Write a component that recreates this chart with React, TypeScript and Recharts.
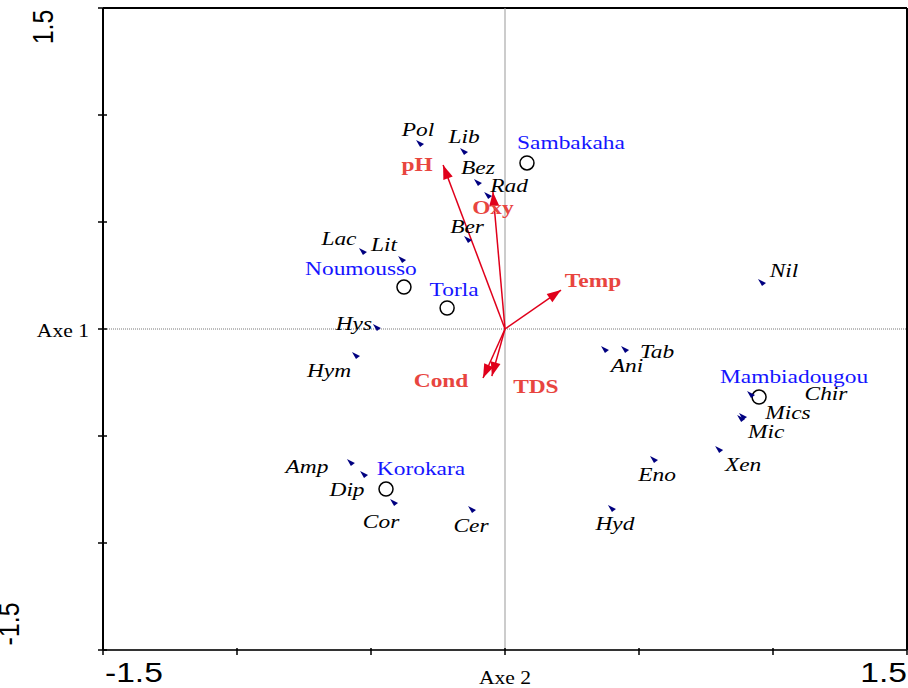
import React from 'react'
import { ScatterChart, Scatter, XAxis, YAxis, ReferenceLine } from 'recharts'

// species scores (axis 2 = x, axis 1 = y)
const speciesNames = ['Pol', 'Lib', 'Bez', 'Rad', 'Ber', 'Lac', 'Lit', 'Hys', 'Hym', 'Tab', 'Ani', 'Nil', 'Chir', 'Mics', 'Mic', 'Xen', 'Eno', 'Hyd', 'Cer', 'Cor', 'Amp', 'Dip']
const speciesX = [-0.317, -0.153, -0.101, -0.063, -0.138, -0.53, -0.384, -0.478, -0.556, 0.448, 0.373, 0.959, 0.918, 0.888, 0.881, 0.799, 0.556, 0.399, -0.123, -0.414, -0.575, -0.526]
const speciesY = [0.864, 0.827, 0.682, 0.621, 0.416, 0.36, 0.322, 0.005, -0.126, -0.098, -0.098, 0.215, -0.308, -0.411, -0.421, -0.565, -0.612, -0.841, -0.846, -0.813, -0.626, -0.682]

// stations
const siteNames = ['Sambakaha', 'Noumousso', 'Torla', 'Mambiadougou', 'Korokara']
const siteX = [0.082, -0.377, -0.216, 0.948, -0.444]
const siteY = [0.776, 0.196, 0.098, -0.318, -0.748]

// environmental variables
const envNames = ['pH', 'Oxy', 'Temp', 'Cond', 'TDS']
const envX = [-0.231, -0.045, 0.209, -0.082, -0.049]
const envY = [0.766, 0.64, 0.182, -0.229, -0.22]

const axisTicks = [-1.5, -1, -0.5, 0, 0.5, 1, 1.5]

// label offsets in px from the point
const LABEL_OFFSET: Record<string, [number, number]> = {
  Pol: [-2, -14], Lib: [0, -15], Bez: [0, -15], Rad: [21, -10], Ber: [-1, -13],
  Lac: [-24, -13], Lit: [-18, -15], Hys: [-23, -4], Hym: [-27, 15], Tab: [32, 2],
  Ani: [22, 16], Nil: [22, -12], Chir: [75, -1], Mics: [45, -4], Mic: [25, 13],
  Xen: [24, 15], Eno: [3, 15], Hyd: [3, 15], Cer: [-1, 16], Cor: [-13, 19],
  Amp: [-44, 4], Dip: [-17, 15],
  Sambakaha: [44, -20], Noumousso: [-43, -18], Torla: [7, -18], Mambiadougou: [35, -20], Korokara: [35, -20],
  pH: [-26, 0], Oxy: [0, 16], Temp: [32, -9], Cond: [-42, 3], TDS: [44, 11],
}

const W = 908
const H = 688
const LEFT = 103
const TOP = 8
const PLOT_W = 804
const PLOT_H = 642
const KX = PLOT_W / 3
const KY = PLOT_H / 3

const SERIF = "'Liberation Serif', 'Times New Roman', serif"
const SANS = "'Liberation Sans', Arial, sans-serif"
const RED = '#e0001b'
const RED_TEXT = '#e8453f'
const BLUE = '#1515ff'
const NAVY = '#000080'

const speciesData = speciesNames.map((name, i) => ({ name, x: speciesX[i], y: speciesY[i] }))
const siteData = siteNames.map((name, i) => ({ name, x: siteX[i], y: siteY[i] }))
const envData = envNames.map((name, i) => ({ name, x: envX[i], y: envY[i] }))

function Txt({ x, y, text, size = 19.5, fill = '#000', italic = false, bold = false, family = SERIF, anchor = 'middle' }: any) {
  return (
    <text
      transform={`translate(${x} ${y}) scale(1.2 1)`}
      textAnchor={anchor}
      dominantBaseline="central"
      fontFamily={family}
      fontSize={size}
      fontStyle={italic ? 'italic' : 'normal'}
      fontWeight={bold ? 'bold' : 'normal'}
      fill={fill}
    >
      {text}
    </text>
  )
}

function SpeciesShape(props: any) {
  const { cx, cy, payload } = props
  const [dx, dy] = LABEL_OFFSET[payload.name] || [0, -14]
  return (
    <g>
      <polygon points={`${cx - 4},${cy - 4} ${cx + 4},${cy} ${cx},${cy + 3}`} fill={NAVY} />
      <Txt x={cx + dx} y={cy + dy} text={payload.name} italic />
    </g>
  )
}

function SiteShape(props: any) {
  const { cx, cy, payload } = props
  const [dx, dy] = LABEL_OFFSET[payload.name] || [0, -18]
  return (
    <g>
      <circle cx={cx} cy={cy} r={7} fill="none" stroke="#000" strokeWidth={1.5} />
      <Txt x={cx + dx} y={cy + dy} text={payload.name} fill={BLUE} />
    </g>
  )
}

function EnvShape(props: any) {
  const { cx, cy, payload } = props
  const px = payload.x * KX
  const py = -payload.y * KY
  const len = Math.hypot(px, py)
  const ux = px / len
  const uy = py / len
  const bx = cx - ux * 14
  const by = cy - uy * 14
  const [dx, dy] = LABEL_OFFSET[payload.name] || [0, 0]
  return (
    <g>
      <polygon
        points={`${cx},${cy} ${bx - uy * 5},${by + ux * 5} ${bx + uy * 5},${by - ux * 5}`}
        fill={RED}
      />
      <Txt x={cx + dx} y={cy + dy} text={payload.name} fill={RED_TEXT} bold />
    </g>
  )
}

function XTick(props: any) {
  const { x, y, payload } = props
  const v = payload.value
  return (
    <g>
      <line x1={x} x2={x} y1={y - 2} y2={y + 5} stroke="#000" strokeWidth={1.5} />
      {v === -1.5 && <Txt x={105} y={672} text="-1.5" family={SANS} size={28} anchor="start" />}
      {v === 0 && <Txt x={x} y={678} text="Axe 2" size={18} />}
      {v === 1.5 && <Txt x={907} y={672} text="1.5" family={SANS} size={28} anchor="end" />}
    </g>
  )
}

function YTick(props: any) {
  const { x, y, payload } = props
  const v = payload.value
  return (
    <g>
      <line x1={x - 5} x2={x + 4} y1={y} y2={y} stroke="#000" strokeWidth={1.5} />
      {v === 0 && <Txt x={89} y={y + 2} text="Axe 1" size={18} anchor="end" />}
      {v === 1.5 && (
        <text transform={`translate(53 ${y + 19}) scale(1.2 1) rotate(-90)`} textAnchor="middle" fontFamily={SANS} fontSize={25} fill="#000">
          1.5
        </text>
      )}
      {v === -1.5 && (
        <text transform={`translate(19 ${y - 26}) scale(1.2 1) rotate(-90)`} textAnchor="middle" fontFamily={SANS} fontSize={25} fill="#000">
          -1.5
        </text>
      )}
    </g>
  )
}

export default function App() {
  return (
    <div style={{ position: 'absolute', left: 0, top: 0, width: W, height: H, background: '#fff' }}>
      <ScatterChart width={W} height={H} margin={{ top: TOP, right: W - LEFT - PLOT_W, bottom: 0, left: 0 }}>
        <XAxis
          type="number"
          dataKey="x"
          domain={[-1.5, 1.5]}
          ticks={axisTicks}
          interval={0}
          allowDataOverflow
          height={H - TOP - PLOT_H}
          tickSize={0}
          tickMargin={0}
          tickLine={false}
          axisLine={{ stroke: '#333', strokeWidth: 2 }}
          tick={<XTick />}
        />
        <YAxis
          type="number"
          dataKey="y"
          domain={[-1.5, 1.5]}
          ticks={axisTicks}
          interval={0}
          allowDataOverflow
          width={LEFT}
          tickSize={0}
          tickMargin={0}
          tickLine={false}
          axisLine={{ stroke: '#000', strokeWidth: 2 }}
          tick={<YTick />}
        />
        <ReferenceLine y={1.5} stroke="#000" strokeWidth={2} ifOverflow="visible" />
        <ReferenceLine x={1.5} stroke="#000" strokeWidth={2} ifOverflow="visible" />
        <ReferenceLine x={0} stroke="#999" strokeWidth={1} />
        <ReferenceLine y={0} stroke="#777" strokeWidth={1} strokeDasharray="1 1" />
        {envData.map((d) => (
          <ReferenceLine
            key={d.name}
            segment={[{ x: 0, y: 0 }, { x: d.x, y: d.y }]}
            stroke={RED}
            strokeWidth={1.5}
          />
        ))}
        <Scatter data={envData} shape={<EnvShape />} isAnimationActive={false} />
        <Scatter data={siteData} shape={<SiteShape />} isAnimationActive={false} />
        <Scatter data={speciesData} shape={<SpeciesShape />} isAnimationActive={false} />
      </ScatterChart>
    </div>
  )
}
